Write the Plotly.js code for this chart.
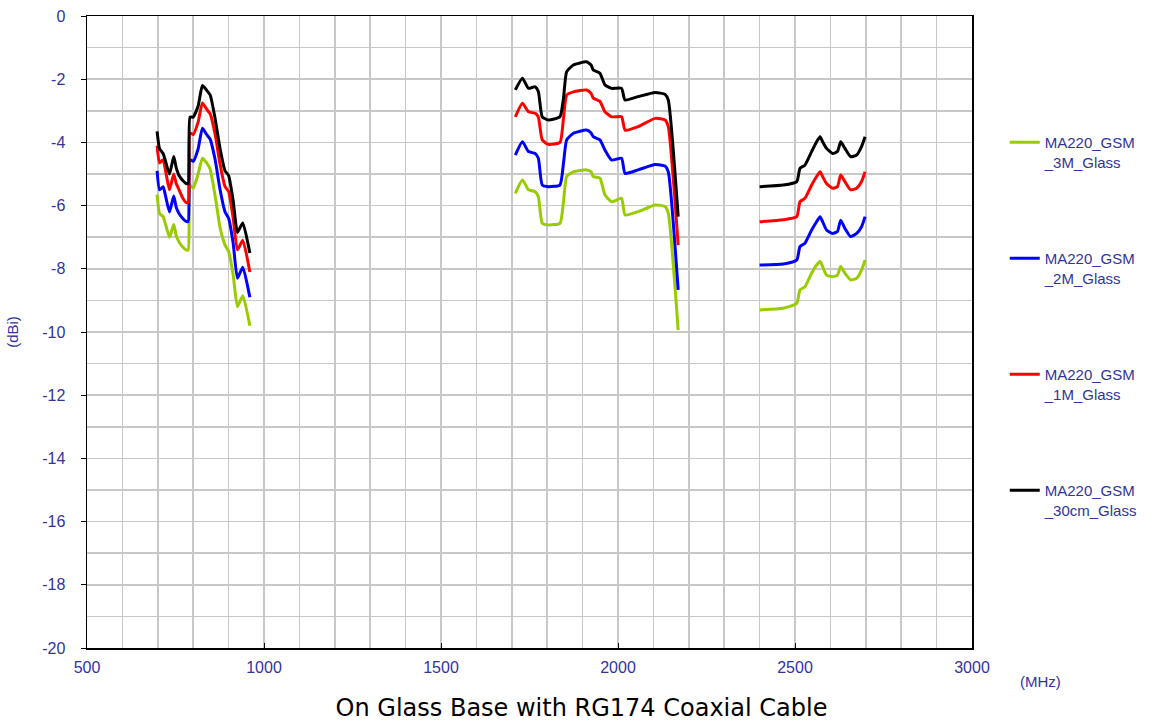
<!DOCTYPE html>
<html>
<head>
<meta charset="utf-8">
<script src="https://cdn.plot.ly/plotly-3.0.1.min.js"></script>
<style>html,body{margin:0;padding:0;background:#fff;}#chart{width:1163px;height:725px;}</style>
</head>
<body>
<div id="chart"></div>
<script>
// ---- Data (frequency in MHz, gain in dBi) ----
const band1Freq = [698, 705, 715, 722, 733, 745, 752, 760, 770, 780, 786, 791, 800, 814, 826, 838, 848, 862, 876, 890, 900, 913, 925, 940, 960];
const band2Freq = [1710, 1730, 1747, 1766, 1775, 1786, 1803, 1836, 1846, 1855, 1874, 1911, 1924, 1930, 1949, 1963, 1982, 2010, 2020, 2057, 2105, 2133, 2142, 2170];
const band3Freq = [2400, 2467, 2505, 2514, 2528, 2547, 2561, 2571, 2578, 2589, 2606, 2620, 2629, 2641, 2657, 2674, 2688, 2698];

const seriesNames = ["MA220_GSM<br>_3M_Glass", "MA220_GSM<br>_2M_Glass", "MA220_GSM<br>_1M_Glass", "MA220_GSM<br>_30cm_Glass"];

const gain3M_b1 = [-5.65, -6.25, -6.35, -6.6, -7.0, -6.6, -6.95, -7.15, -7.3, -7.4, -7.4, -5.35, -5.45, -5.0, -4.5, -4.65, -4.85, -5.7, -6.7, -7.25, -7.45, -8.2, -9.2, -8.85, -9.8];
const gain3M_b2 = [-5.61, -5.19, -5.5, -5.56, -5.72, -6.56, -6.61, -6.56, -5.88, -5.08, -4.93, -4.87, -4.93, -5.08, -5.13, -5.66, -5.88, -5.77, -6.3, -6.19, -5.98, -6.03, -6.24, -9.94];
const gain3M_b3 = [-9.3, -9.25, -9.09, -8.67, -8.57, -8.14, -7.88, -7.77, -7.93, -8.2, -8.25, -8.2, -7.93, -8.14, -8.35, -8.3, -8.04, -7.72];

const gain2M_b1 = [-4.9, -5.5, -5.4, -5.7, -6.2, -5.7, -6.05, -6.25, -6.4, -6.5, -6.5, -4.55, -4.6, -4.2, -3.55, -3.75, -3.9, -4.55, -5.5, -6.2, -6.4, -7.2, -8.3, -7.95, -8.9];
const gain2M_b2 = [-4.4, -3.98, -4.29, -4.35, -4.5, -5.35, -5.4, -5.35, -4.66, -3.92, -3.71, -3.61, -3.7, -3.82, -3.92, -4.24, -4.56, -4.5, -4.98, -4.87, -4.7, -4.75, -4.93, -8.67];
const gain2M_b3 = [-7.88, -7.85, -7.72, -7.3, -7.19, -6.77, -6.51, -6.35, -6.51, -6.77, -6.88, -6.82, -6.46, -6.72, -6.98, -6.88, -6.67, -6.35];

const gain1M_b1 = [-4.1, -4.65, -4.55, -4.9, -5.5, -5.0, -5.3, -5.5, -5.75, -5.9, -5.9, -3.7, -3.75, -3.35, -2.75, -2.95, -3.1, -3.75, -4.7, -5.4, -5.55, -6.4, -7.4, -7.1, -8.1];
const gain1M_b2 = [-3.19, -2.76, -3.03, -3.08, -3.2, -3.92, -4.06, -4.0, -3.24, -2.5, -2.4, -2.34, -2.45, -2.6, -2.7, -3.03, -3.19, -3.19, -3.61, -3.5, -3.24, -3.29, -3.5, -7.25];
const gain1M_b3 = [-6.51, -6.45, -6.35, -5.88, -5.77, -5.35, -5.08, -4.93, -5.08, -5.3, -5.45, -5.4, -5.03, -5.24, -5.5, -5.45, -5.24, -4.93];

const gain30cm_b1 = [-3.65, -4.2, -4.35, -4.6, -5.0, -4.45, -4.8, -5.05, -5.2, -5.3, -5.3, -3.2, -3.2, -2.85, -2.2, -2.35, -2.5, -3.25, -4.2, -4.9, -5.05, -5.85, -6.85, -6.55, -7.5];
const gain30cm_b2 = [-2.34, -1.97, -2.29, -2.24, -2.39, -3.19, -3.29, -3.19, -2.6, -1.76, -1.55, -1.45, -1.55, -1.71, -1.81, -2.18, -2.29, -2.29, -2.66, -2.55, -2.42, -2.48, -2.66, -6.35];
const gain30cm_b3 = [-5.4, -5.35, -5.24, -4.82, -4.72, -4.29, -3.98, -3.82, -3.98, -4.19, -4.35, -4.29, -3.98, -4.19, -4.45, -4.4, -4.13, -3.82];

const xTickVals = [500, 1000, 1500, 2000, 2500, 3000];
const yTickVals = [0, -2, -4, -6, -8, -10, -12, -14, -16, -18, -20];

// ---- Build traces ----
const colors = ["#99cc00", "#0000ff", "#ff0000", "#000000"];
const allGains = [
  [gain3M_b1, gain3M_b2, gain3M_b3],
  [gain2M_b1, gain2M_b2, gain2M_b3],
  [gain1M_b1, gain1M_b2, gain1M_b3],
  [gain30cm_b1, gain30cm_b2, gain30cm_b3]
];
const bands = [band1Freq, band2Freq, band3Freq];

const traces = allGains.map((g, i) => {
  let xs = [], ys = [];
  bands.forEach((bf, b) => {
    if (b > 0) { xs.push(null); ys.push(null); }
    xs = xs.concat(bf);
    ys = ys.concat(g[b]);
  });
  return {
    x: xs, y: ys, type: "scatter", mode: "lines",
    name: seriesNames[i], legendgroup: "g" + i,
    line: {color: colors[i], width: 3, shape: "spline", smoothing: 0.5},
    connectgaps: false, hoverinfo: "skip"
  };
});

const tickColor = "#33339f";
const gridColor = "#c8c8c8";

const layout = {
  width: 1163, height: 725,
  paper_bgcolor: "#fff", plot_bgcolor: "#fff",
  margin: {l: 87, r: 191, t: 16, b: 77},
  font: {family: "Liberation Sans, Arial, sans-serif", color: tickColor},
  showlegend: true,
  legend: {
    x: 1.037, xanchor: "left", y: 0.826, yanchor: "top",
    valign: "top", tracegroupgap: 74,
    font: {family: "Liberation Sans, Arial, sans-serif", size: 15, color: tickColor},
    bgcolor: "rgba(0,0,0,0)", borderwidth: 0
  },
  title: {
    text: "On Glass Base with RG174 Coaxial Cable",
    font: {family: "DejaVu Sans, Verdana, sans-serif", size: 24, color: "#000"},
    x: 0.5, xref: "container", xanchor: "center",
    y: 1 - 708 / 725, yref: "container", yanchor: "middle"
  },
  xaxis: {
    range: [500, 3000], tickvals: xTickVals, ticktext: xTickVals.map(String),
    ticks: "inside", ticklen: 5, tickcolor: "#000", ticklabelstandoff: 4,
    showgrid: true, gridcolor: gridColor, gridwidth: 1.5,
    minor: {dtick: 100, tick0: 500, showgrid: true, gridcolor: gridColor, gridwidth: 1.5, ticks: ""},
    showline: true, linecolor: "#000", linewidth: 1.5, mirror: true,
    zeroline: false, fixedrange: true,
    tickfont: {size: 16, color: tickColor, family: "Liberation Sans, Arial, sans-serif"}
  },
  yaxis: {
    range: [-20, 0], tickvals: yTickVals, ticktext: yTickVals.map(String),
    ticks: "outside", ticklen: 5, tickcolor: "#000", ticklabelstandoff: 12,
    showgrid: true, gridcolor: gridColor, gridwidth: 1.5,
    minor: {dtick: 1, tick0: 0, showgrid: true, gridcolor: gridColor, gridwidth: 1.5, ticks: ""},
    showline: true, linecolor: "#000", linewidth: 1.5, mirror: true,
    zeroline: false, fixedrange: true,
    tickfont: {size: 16, color: tickColor, family: "Liberation Sans, Arial, sans-serif"},
    title: {text: "(dBi)", font: {size: 15, color: tickColor}, standoff: 20}
  },
  annotations: [{
    text: "(MHz)", xref: "paper", yref: "paper",
    x: (1040 - 87) / 885, y: -(681 - 648) / 632,
    xanchor: "center", yanchor: "middle", showarrow: false,
    font: {size: 15, color: tickColor, family: "Liberation Sans, Arial, sans-serif"}
  }]
};

Plotly.newPlot("chart", traces, layout, {staticPlot: true, displayModeBar: false});
</script>
</body>
</html>
